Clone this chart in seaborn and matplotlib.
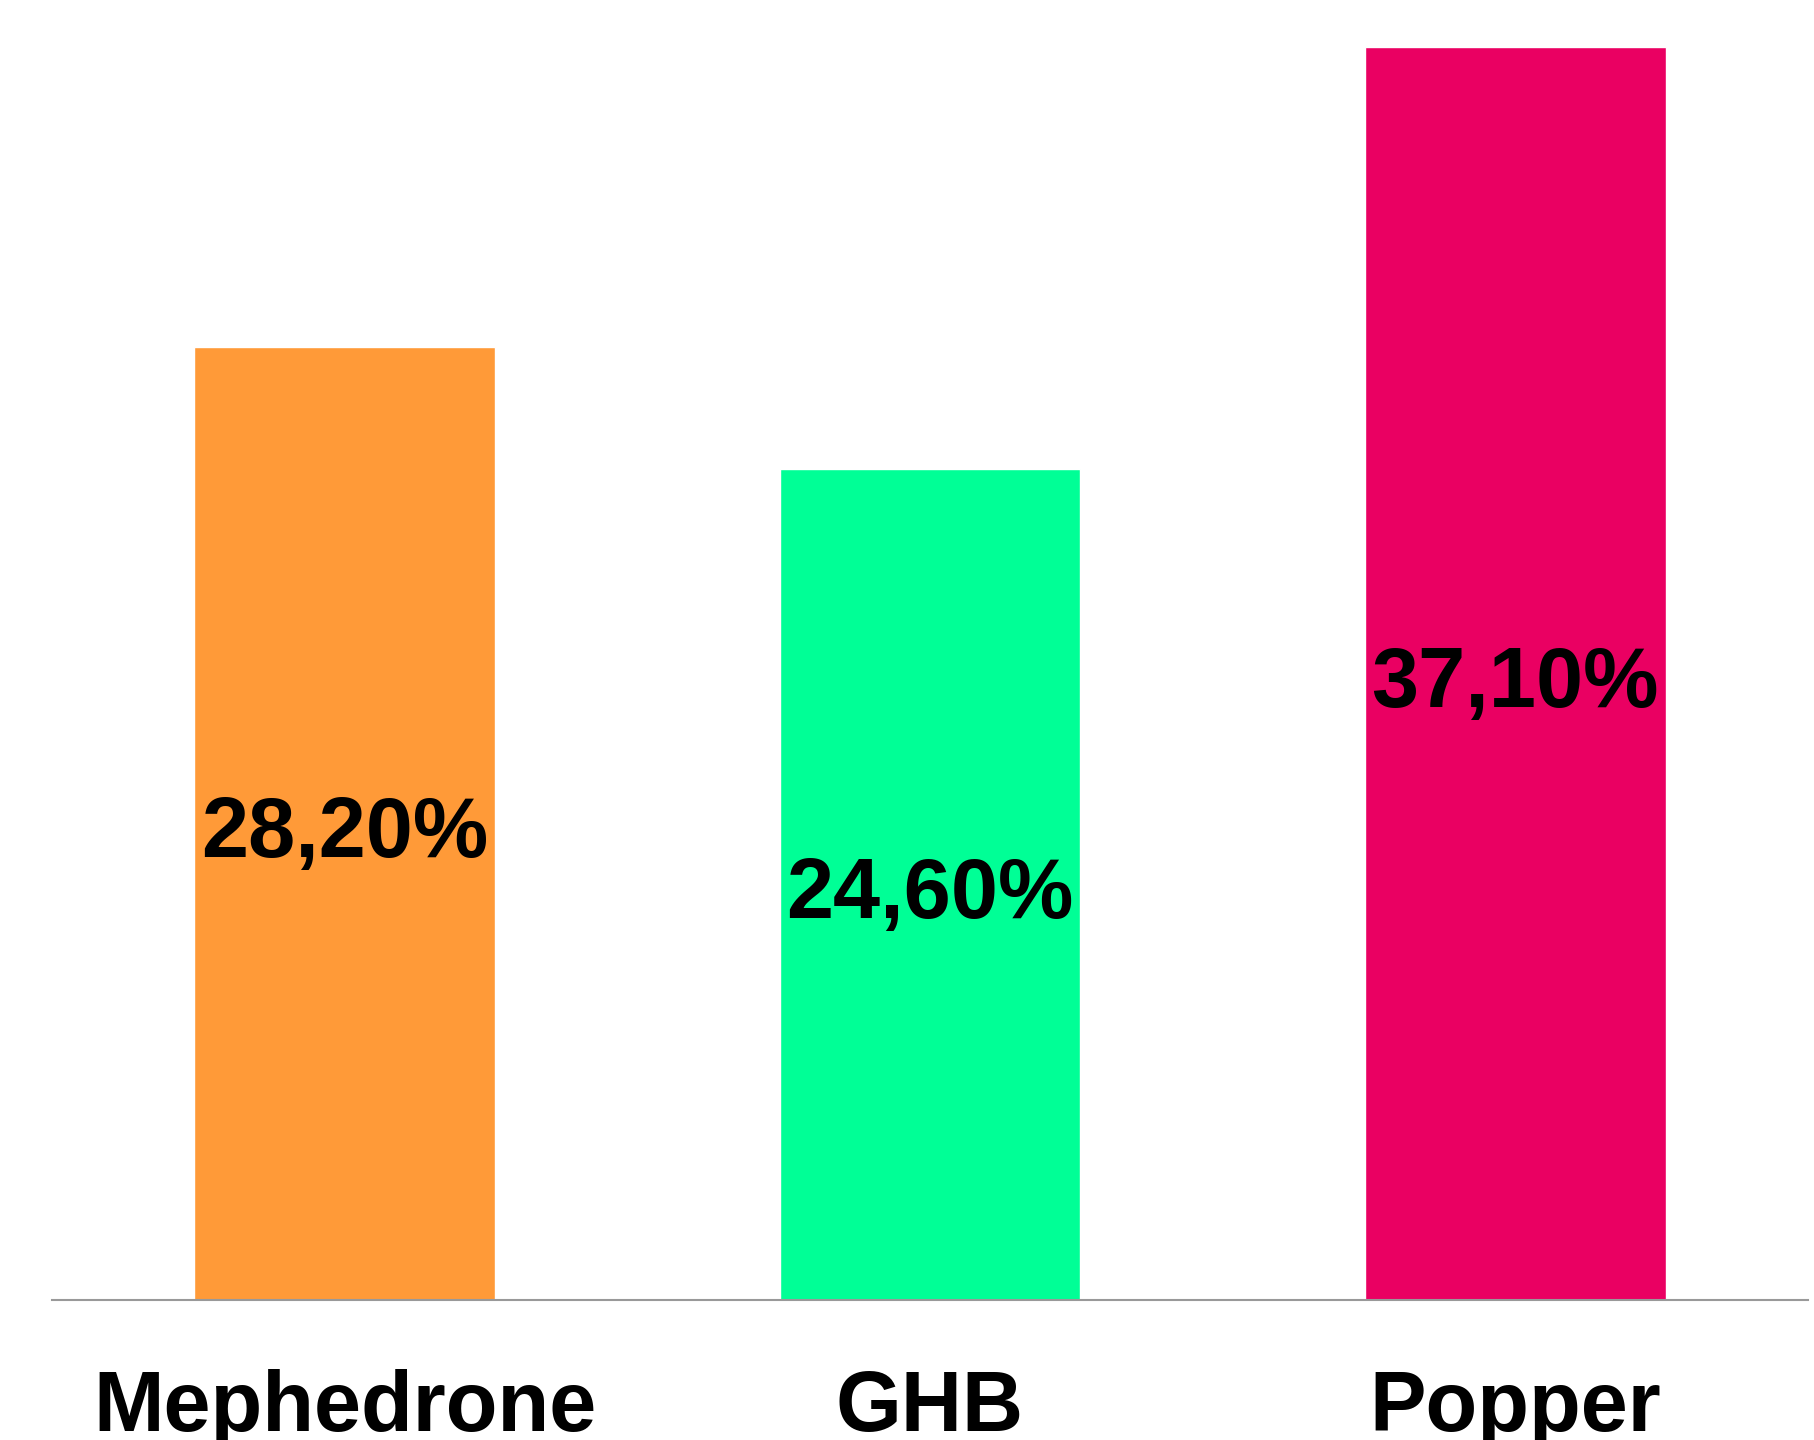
import pandas as pd
import matplotlib.pyplot as plt
import seaborn as sns

# Data
drugs = ['Mephedrone', 'GHB', 'Popper']
shares = [28.2, 24.6, 37.1]
labels = ['28,20%', '24,60%', '37,10%']
colors = ['#FF9A38', '#00FF96', '#EA0062']

df = pd.DataFrame({'drug': drugs, 'share': shares})

sns.set_style('white')
plt.rcParams['font.family'] = ['Liberation Sans', 'DejaVu Sans']

fig = plt.figure(figsize=(18.15, 14.4), dpi=100)
ax = fig.add_axes([0.0287, 0.0972, 0.9674, 0.9028])

sns.barplot(data=df, x='drug', y='share', hue='drug', palette=colors,
            width=0.514, legend=False, saturation=1, ax=ax)

# Value labels centred in each bar (baseline shifted so caps sit in the middle)
for i, (v, lab) in enumerate(zip(shares, labels)):
    ax.annotate(lab, (i, v / 2), xytext=(0, -24), textcoords='offset points',
                ha='center', va='baseline', fontsize=61,
                fontweight='bold', color='black')

ax.set_xlim(-0.5, 2.5)
ax.set_ylim(0, 38.48)
ax.set_xlabel('')
ax.set_ylabel('')
ax.set_yticks([])
ax.tick_params(axis='x', length=0, pad=50, labelsize=61, labelcolor='black')
for t in ax.get_xticklabels():
    t.set_fontweight('bold')

for s in ['top', 'right', 'left']:
    ax.spines[s].set_visible(False)
ax.spines['bottom'].set_color('#999999')
ax.spines['bottom'].set_linewidth(1.5)

fig.savefig('out.png', dpi=100)
